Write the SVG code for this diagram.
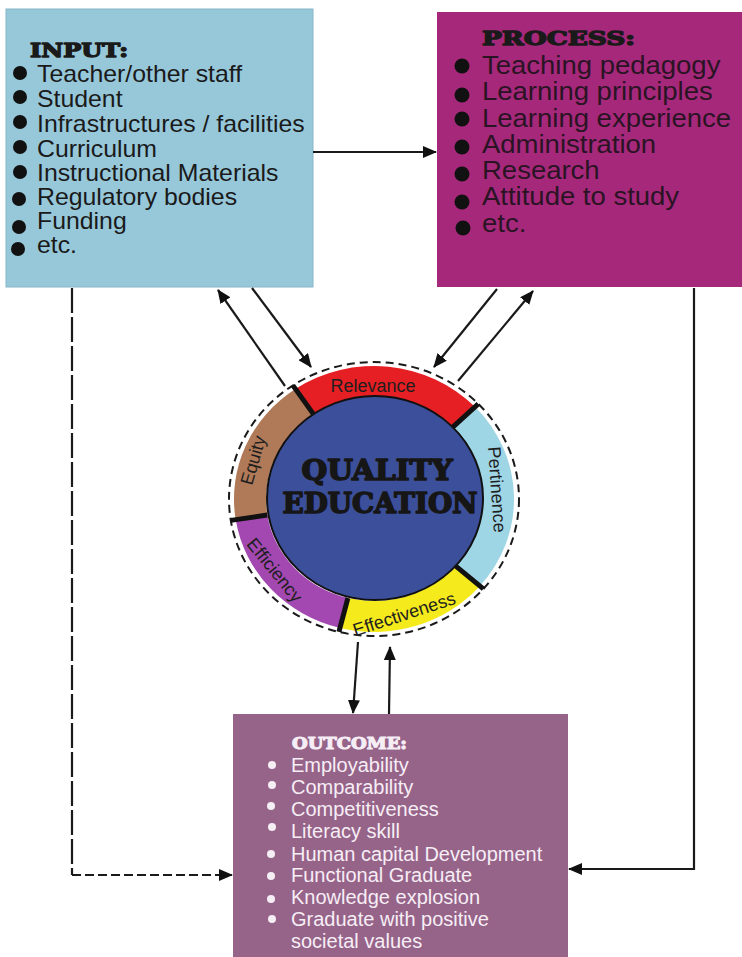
<svg xmlns="http://www.w3.org/2000/svg" width="742" height="957" viewBox="0 0 742 957">
  <style>
    .head { font-family: "DejaVu Serif", "Liberation Serif", serif; font-weight: 900; stroke-linejoin: round; }
    .item { font-family: "Liberation Sans", Arial, sans-serif; }
    .ring { font-family: "Liberation Sans", Arial, sans-serif; font-size: 18px; fill: #1e1e1e; }
    .link { fill: none; stroke: #1a1a1a; stroke-width: 2.2; }
    .sep { stroke: #111; stroke-width: 5; }
  </style>
  <defs>
    <marker id="arrow" viewBox="0 0 14 12" refX="13" refY="6" markerWidth="14" markerHeight="12" markerUnits="userSpaceOnUse" orient="auto">
      <path d="M0,0 L14,6 L0,12 Z" fill="#111"/>
    </marker>
  </defs>
  <rect width="742" height="957" fill="#ffffff"/>

  <!-- INPUT box -->
  <g id="input">
    <rect x="6" y="9" width="307" height="278" fill="#97c8da" stroke="#86b6c8" stroke-width="1"/>
    <text class="head" x="30" y="57" font-size="18" fill="#1a1a1a" stroke="#1a1a1a" stroke-width="1.3" textLength="98" lengthAdjust="spacingAndGlyphs">INPUT:</text>
    <g fill="#111">
      <circle cx="20" cy="73" r="7"/>
      <circle cx="20" cy="97" r="7"/>
      <circle cx="20" cy="122" r="7"/>
      <circle cx="20" cy="147" r="7"/>
      <circle cx="20" cy="172" r="7"/>
      <circle cx="19" cy="199" r="7"/>
      <circle cx="19" cy="227" r="7"/>
      <circle cx="18" cy="249" r="7"/>
    </g>
    <g class="item" font-size="23" fill="#1a1a1a" transform="translate(37 0) scale(1.08 1)">
      <text x="0" y="82">Teacher/other staff</text>
      <text x="0" y="107">Student</text>
      <text x="0" y="132">Infrastructures / facilities</text>
      <text x="0" y="157">Curriculum</text>
      <text x="0" y="181">Instructional Materials</text>
      <text x="0" y="205">Regulatory bodies</text>
      <text x="0" y="229">Funding</text>
      <text x="0" y="253">etc.</text>
    </g>
  </g>

  <!-- PROCESS box -->
  <g id="process">
    <rect x="437" y="12" width="305" height="275" fill="#a6287b"/>
    <text class="head" x="482" y="45" font-size="18" fill="#1a1a1a" stroke="#1a1a1a" stroke-width="1.3" textLength="153" lengthAdjust="spacingAndGlyphs">PROCESS:</text>
    <g fill="#111">
      <circle cx="462" cy="66" r="7.5"/>
      <circle cx="462" cy="95" r="7.5"/>
      <circle cx="462" cy="119" r="7.5"/>
      <circle cx="462" cy="147" r="7.5"/>
      <circle cx="462" cy="174" r="7.5"/>
      <circle cx="462" cy="202" r="7.5"/>
      <circle cx="463" cy="228" r="7.5"/>
    </g>
    <g class="item" font-size="25" fill="#2a1424" transform="translate(482 0) scale(1.1 1)">
      <text x="0" y="74">Teaching pedagogy</text>
      <text x="0" y="100">Learning principles</text>
      <text x="0" y="127">Learning experience</text>
      <text x="0" y="153">Administration</text>
      <text x="0" y="179">Research</text>
      <text x="0" y="205">Attitude to study</text>
      <text x="0" y="232">etc.</text>
    </g>
  </g>

  <!-- QUALITY EDUCATION wheel -->
  <g id="quality">
    <!-- Equity -->
    <path d="M235.7,519.8 A140,133 0 0 1 295.7,388.7 L313.6,414.4 A108,102 0 0 0 267.3,515.0 Z" fill="#b07a58"/>
    <!-- Relevance -->
    <path d="M295.7,388.7 A140,133 0 0 1 474.7,406.6 L451.7,428.1 A108,102 0 0 0 313.6,414.4 Z" fill="#e61f24"/>
    <!-- Pertinence -->
    <path d="M474.7,406.6 A140,133 0 0 1 479.7,586.3 L455.5,565.9 A108,102 0 0 0 451.7,428.1 Z" fill="#9fd6e6"/>
    <!-- Effectiveness -->
    <path d="M479.7,586.3 A140,133 0 0 1 340.1,628.0 L347.9,598.0 A108,102 0 0 0 455.5,565.9 Z" fill="#f4ea1c"/>
    <!-- Efficiency -->
    <path d="M340.1,628.0 A140,133 0 0 1 235.7,519.8 L267.3,515.0 A108,102 0 0 0 347.9,598.0 Z" fill="#a348b0"/>

    <ellipse cx="374" cy="499" rx="145" ry="137" fill="none" stroke="#1a1a1a" stroke-width="2" stroke-dasharray="8 5"/>

    <line class="sep" x1="313.6" y1="414.4" x2="292.9" y2="385.4"/>
    <line class="sep" x1="451.7" y1="428.1" x2="478.3" y2="403.8"/>
    <line class="sep" x1="455.5" y1="565.9" x2="483.4" y2="588.9"/>
    <line class="sep" x1="347.9" y1="598.0" x2="338.9" y2="631.9"/>
    <line class="sep" x1="267.3" y1="515.0" x2="230.8" y2="520.4"/>

    <ellipse cx="375" cy="498" rx="108" ry="102" fill="#3c4f9b" stroke="#111" stroke-width="2"/>

    <text class="ring" x="373" y="392" text-anchor="middle">Relevance</text>
    <text class="ring" text-anchor="middle" transform="translate(491 490) rotate(86)">Pertinence</text>
    <text class="ring" text-anchor="middle" transform="translate(406 620) rotate(-18)">Effectiveness</text>
    <text class="ring" text-anchor="middle" transform="translate(270 574) rotate(51)">Efficiency</text>
    <text class="ring" text-anchor="middle" transform="translate(259 462) rotate(-74)">Equity</text>

    <text class="head" x="377" y="480" font-size="27" fill="#161616" stroke="#161616" stroke-width="1.6" text-anchor="middle" textLength="151" lengthAdjust="spacingAndGlyphs">QUALITY</text>
    <text class="head" x="380" y="513" font-size="27" fill="#161616" stroke="#161616" stroke-width="1.6" text-anchor="middle" textLength="195" lengthAdjust="spacingAndGlyphs">EDUCATION</text>
  </g>

  <!-- OUTCOME box -->
  <g id="outcome">
    <rect x="233" y="714" width="335" height="243" fill="#966389"/>
    <text class="head" x="292" y="749" font-size="16" fill="#f6eef5" stroke="#f6eef5" stroke-width="1.1" textLength="115" lengthAdjust="spacingAndGlyphs">OUTCOME:</text>
    <g fill="#f6eef5">
      <circle cx="272" cy="765" r="4"/>
      <circle cx="272" cy="785" r="4"/>
      <circle cx="271" cy="806" r="4"/>
      <circle cx="272" cy="827" r="4"/>
      <circle cx="271" cy="854" r="4"/>
      <circle cx="271" cy="876" r="4"/>
      <circle cx="271" cy="899" r="4"/>
      <circle cx="272" cy="919" r="4"/>
    </g>
    <g class="item" font-size="20" fill="#f6eef5">
      <text x="291" y="772">Employability</text>
      <text x="291" y="794">Comparability</text>
      <text x="291" y="816">Competitiveness</text>
      <text x="291" y="838">Literacy skill</text>
      <text x="291" y="861">Human capital Development</text>
      <text x="291" y="882">Functional Graduate</text>
      <text x="291" y="904">Knowledge explosion</text>
      <text x="291" y="926">Graduate with positive</text>
      <text x="291" y="948">societal values</text>
    </g>
  </g>

  <!-- connectors -->
  <g id="connectors">
    <path class="link" d="M313,152 L436,152" marker-end="url(#arrow)"/>
    <path class="link" d="M285,386 L218,290" marker-end="url(#arrow)"/>
    <path class="link" d="M252,288 L311,367" marker-end="url(#arrow)"/>
    <path class="link" d="M497,289 L434,367" marker-end="url(#arrow)"/>
    <path class="link" d="M458,381 L533,291" marker-end="url(#arrow)"/>
    <path class="link" d="M358,642 L353,713" marker-end="url(#arrow)"/>
    <path class="link" d="M389,714 L390,647" marker-end="url(#arrow)"/>
    <path class="link" d="M72,288 L72,875" stroke-width="3" stroke-dasharray="25 4"/>
    <path class="link" d="M72,875 L232,875" stroke-width="3" stroke-dasharray="9 4" marker-end="url(#arrow)"/>
    <path class="link" d="M694,288 L694,869 L569,869" marker-end="url(#arrow)"/>
  </g>
</svg>
